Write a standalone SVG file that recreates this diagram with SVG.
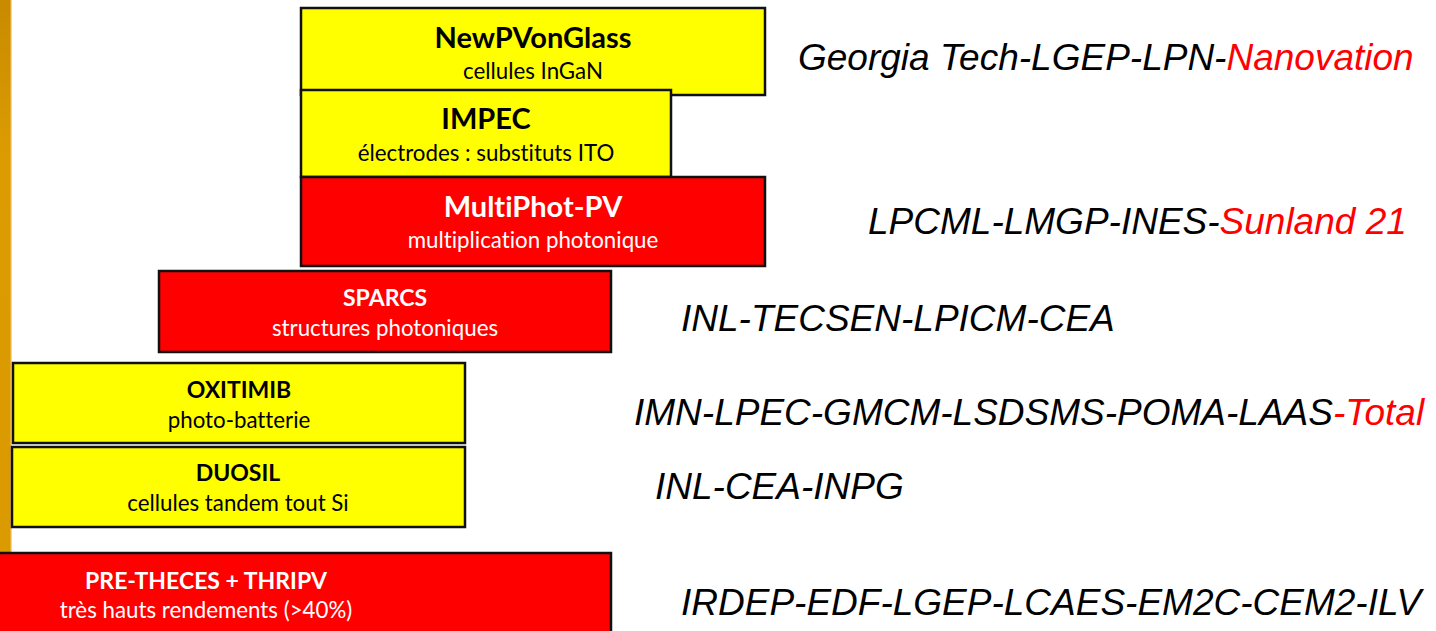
<svg xmlns="http://www.w3.org/2000/svg" width="1436" height="631" viewBox="0 0 1436 631">
<defs>
<linearGradient id="gold" x1="0" y1="0" x2="0" y2="1">
<stop offset="0" stop-color="#C98A00"/>
<stop offset="0.25" stop-color="#DC9C00"/>
<stop offset="1" stop-color="#DA9A00"/>
</linearGradient>
</defs>
<style>
.box{stroke:#111;stroke-width:2.5}
.y{fill:#FFFF00}
.r{fill:#FF0000}
.t{font-family:Lato,"Liberation Sans",sans-serif;font-weight:bold;text-anchor:middle;font-variant-ligatures:none}
.s{font-family:Lato,"Liberation Sans",sans-serif;text-anchor:middle;font-variant-ligatures:none}
.big{font-size:29px}
.sub1{font-size:22.3px}
.mid{font-size:23px}
.sub2{font-size:22.3px}
.dk{fill:#000}
.wt{fill:#fff}
.p{font-family:"Liberation Sans",Arial,sans-serif;font-style:italic;font-size:37px;fill:#000}
.red{fill:#FF0000}
</style>
<rect x="0" y="0" width="11" height="631" fill="url(#gold)"/>
<rect x="10.5" y="0" width="1.2" height="631" fill="#F2C46A"/>

<g id="newpvonglass">
<rect class="box y" x="301" y="8" width="464" height="87"/>
<text class="t big dk" x="533" y="48">NewPVonGlass</text>
<text class="s sub1 dk" x="533" y="79">cellules InGaN</text>
</g>
<g id="impec">
<rect class="box y" x="301" y="90" width="370" height="87"/>
<text class="t big dk" x="486" y="129">IMPEC</text>
<text class="s sub1 dk" x="486" y="161">électrodes : substituts ITO</text>
</g>
<g id="multiphot">
<rect class="box r" x="301" y="177" width="464" height="89"/>
<text class="t big wt" x="533" y="217">MultiPhot-PV</text>
<text class="s sub1 wt" x="533" y="248">multiplication photonique</text>
</g>
<g id="sparcs">
<rect class="box r" x="159" y="271" width="452" height="81"/>
<text class="t mid wt" x="385" y="306">SPARCS</text>
<text class="s sub2 wt" x="385" y="336">structures photoniques</text>
</g>
<g id="oxitimib">
<rect class="box y" x="13" y="363" width="452" height="80"/>
<text class="t mid dk" x="239" y="398">OXITIMIB</text>
<text class="s sub2 dk" x="239" y="428">photo-batterie</text>
</g>
<g id="duosil">
<rect class="box y" x="12" y="447" width="453" height="80"/>
<text class="t mid dk" x="238" y="481">DUOSIL</text>
<text class="s sub2 dk" x="238" y="511">cellules tandem tout Si</text>
</g>
<g id="pretheces">
<rect class="box r" x="-3" y="553" width="614" height="82"/>
<text class="t mid wt" x="206" y="589">PRE-THECES + THRIPV</text>
<text class="s sub2 wt" x="206" y="618">très hauts rendements (&gt;40%)</text>
</g>

<g id="partners">
<text id="p-newpv" class="p" x="798" y="70">Georgia Tech-LGEP-LPN-<tspan class="red">Nanovation</tspan></text>
<text id="p-multiphot" class="p" x="868" y="234">LPCML-LMGP-INES-<tspan class="red">Sunland 21</tspan></text>
<text id="p-sparcs" class="p" x="681" y="331">INL-TECSEN-LPICM-CEA</text>
<text id="p-oxitimib" class="p" x="634" y="425">IMN-LPEC-GMCM-LSDSMS-POMA-LAAS<tspan class="red">-Total</tspan></text>
<text id="p-duosil" class="p" x="655" y="499">INL-CEA-INPG</text>
<text id="p-pretheces" class="p" x="681" y="615">IRDEP-EDF-LGEP-LCAES-EM2C-CEM2-ILV</text>
</g>
</svg>
